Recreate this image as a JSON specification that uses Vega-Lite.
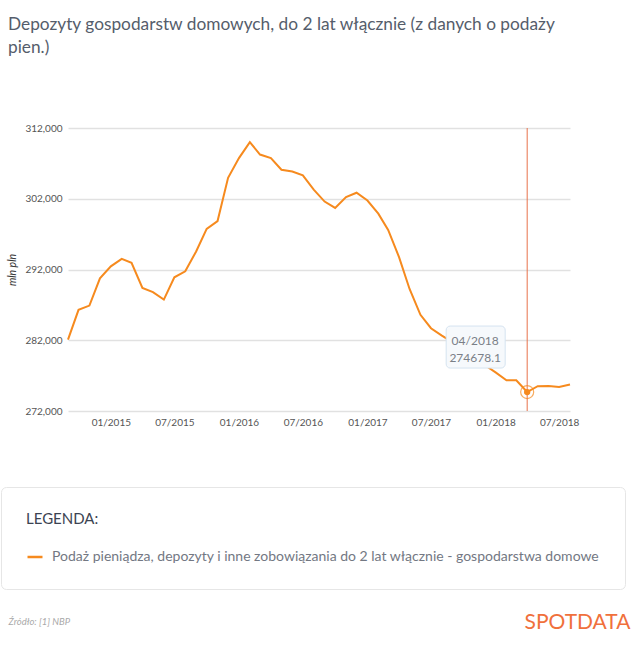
{
  "$schema": "https://vega.github.io/schema/vega-lite/v6.json",
  "width": 502,
  "height": 283,
  "autosize": {"type": "none"},
  "padding": {"left": 68, "top": 128, "right": 70, "bottom": 236},
  "background": "white",
  "title": {
    "text": ["Depozyty gospodarstw domowych, do 2 lat włącznie (z danych o podaży", "pien.)"],
    "anchor": "start",
    "frame": "group",
    "dx": -60,
    "offset": 53,
    "baseline": "alphabetic",
    "lineHeight": 23,
    "fontSize": 17.3,
    "fontWeight": "normal",
    "color": "#555d6b",
    "font": "Lato"
  },
  "data": {
    "values": [
      {"date": "2014-09-01", "value": 282100},
      {"date": "2014-10-01", "value": 286300},
      {"date": "2014-11-01", "value": 286900},
      {"date": "2014-12-01", "value": 290750},
      {"date": "2015-01-01", "value": 292450},
      {"date": "2015-02-01", "value": 293500},
      {"date": "2015-03-01", "value": 292950},
      {"date": "2015-04-01", "value": 289400},
      {"date": "2015-05-01", "value": 288800},
      {"date": "2015-06-01", "value": 287750},
      {"date": "2015-07-01", "value": 290900},
      {"date": "2015-08-01", "value": 291750},
      {"date": "2015-09-01", "value": 294550},
      {"date": "2015-10-01", "value": 297750},
      {"date": "2015-11-01", "value": 298850},
      {"date": "2015-12-01", "value": 304950},
      {"date": "2016-01-01", "value": 307750},
      {"date": "2016-02-01", "value": 310000},
      {"date": "2016-03-01", "value": 308250},
      {"date": "2016-04-01", "value": 307750},
      {"date": "2016-05-01", "value": 306100},
      {"date": "2016-06-01", "value": 305850},
      {"date": "2016-07-01", "value": 305300},
      {"date": "2016-08-01", "value": 303300},
      {"date": "2016-09-01", "value": 301600},
      {"date": "2016-10-01", "value": 300700},
      {"date": "2016-11-01", "value": 302250},
      {"date": "2016-12-01", "value": 302850},
      {"date": "2017-01-01", "value": 301750},
      {"date": "2017-02-01", "value": 299900},
      {"date": "2017-03-01", "value": 297600},
      {"date": "2017-04-01", "value": 293750},
      {"date": "2017-05-01", "value": 289250},
      {"date": "2017-06-01", "value": 285600},
      {"date": "2017-07-01", "value": 283700},
      {"date": "2017-08-01", "value": 282650},
      {"date": "2017-09-01", "value": 281700},
      {"date": "2017-10-01", "value": 280600},
      {"date": "2017-11-01", "value": 279600},
      {"date": "2017-12-01", "value": 278500},
      {"date": "2018-01-01", "value": 277450},
      {"date": "2018-02-01", "value": 276350},
      {"date": "2018-03-01", "value": 276350},
      {"date": "2018-04-01", "value": 274678.1},
      {"date": "2018-05-01", "value": 275500},
      {"date": "2018-06-01", "value": 275550},
      {"date": "2018-07-01", "value": 275400},
      {"date": "2018-08-01", "value": 275750}
    ]
  },
  "encoding": {
    "x": {
      "field": "date",
      "type": "temporal",
      "scale": {
        "type": "utc",
        "domain": [
          {"year": 2014, "month": 9, "date": 1, "utc": true},
          {"year": 2018, "month": 8, "date": 1, "utc": true}
        ],
        "nice": false
      },
      "axis": {
        "title": "Źródło: [1] NBP",
        "titleX": -60,
        "titleY": 210,
        "titleAlign": "left",
        "titleBaseline": "middle",
        "titleFontSize": 9.5,
        "titleFontStyle": "italic",
        "titleFontWeight": "normal",
        "titleColor": "#a9a9a9",
        "values": [
          {"year": 2015, "month": 1, "date": 1, "utc": true},
          {"year": 2015, "month": 7, "date": 1, "utc": true},
          {"year": 2016, "month": 1, "date": 1, "utc": true},
          {"year": 2016, "month": 7, "date": 1, "utc": true},
          {"year": 2017, "month": 1, "date": 1, "utc": true},
          {"year": 2017, "month": 7, "date": 1, "utc": true},
          {"year": 2018, "month": 1, "date": 1, "utc": true},
          {"year": 2018, "month": 7, "date": 1, "utc": true}
        ],
        "format": "%m/%Y",
        "grid": false,
        "domain": false,
        "ticks": false,
        "labelFontSize": 10,
        "labelColor": "#555555",
        "labelPadding": 6
      }
    }
  },
  "layer": [
    {
      "layer": [
        {
          "mark": {"type": "line", "strokeWidth": 2, "interpolate": "linear"},
          "encoding": {
            "y": {
              "field": "value",
              "type": "quantitative",
              "scale": {"domain": [272000, 312000], "nice": false, "zero": false},
              "axis": {
                "title": "mln pln",
                "titleFontStyle": "italic",
                "titleFontWeight": "normal",
                "titleFontSize": 10.5,
                "titleColor": "#333333",
                "titlePadding": 7,
                "values": [272000, 282000, 292000, 302000, 312000],
                "format": ",d",
                "domain": false,
                "ticks": false,
                "labelFontSize": 10,
                "labelColor": "#555555",
                "labelPadding": 6,
                "grid": true,
                "gridColor": "#e1e1e1",
                "gridWidth": 1.5
              }
            },
            "color": {
              "datum": "Podaż pieniądza, depozyty i inne zobowiązania do 2 lat włącznie - gospodarstwa domowe",
              "type": "nominal",
              "scale": {"range": ["#f68a1e"]},
              "legend": {
                "orient": "none",
                "legendX": -67,
                "legendY": 359,
                "title": "LEGENDA:",
                "titleFontSize": 15,
                "titleFontWeight": "normal",
                "titleColor": "#3c4352",
                "titlePadding": 21,
                "labelFontSize": 14,
                "labelColor": "#737883",
                "labelLimit": 1000,
                "labelOffset": 8,
                "symbolType": "stroke",
                "symbolStrokeWidth": 2.5,
                "symbolSize": 225,
                "padding": 25,
                "strokeColor": "#e6e6e6",
                "fillColor": "white",
                "cornerRadius": 5
              }
            }
          }
        },
        {
          "transform": [{"filter": {"field": "date", "equal": {"year": 2018, "month": 4, "date": 1, "utc": true}}}],
          "mark": {"type": "rule", "color": "#e8714a", "strokeWidth": 1},
          "encoding": {}
        },
        {
          "transform": [{"filter": {"field": "date", "equal": {"year": 2018, "month": 4, "date": 1, "utc": true}}}],
          "mark": {
            "type": "rect",
            "fill": "#f6f9fc",
            "stroke": "#d5e3f0",
            "strokeWidth": 1,
            "cornerRadius": 4,
            "xOffset": -81,
            "x2Offset": -22,
            "yOffset": -66,
            "y2Offset": -24
          },
          "encoding": {
            "x2": {"field": "date"},
            "y": {"field": "value", "type": "quantitative"},
            "y2": {"field": "value"}
          }
        },
        {
          "transform": [{"filter": {"field": "date", "equal": {"year": 2018, "month": 4, "date": 1, "utc": true}}}],
          "mark": {"type": "text", "dx": -52, "dy": -51, "fontSize": 12, "color": "#7a7f87", "baseline": "middle"},
          "encoding": {
            "y": {"field": "value", "type": "quantitative"},
            "text": {"field": "date", "timeUnit": "utcyearmonth", "type": "temporal", "format": "%m/%Y"}
          }
        },
        {
          "transform": [{"filter": {"field": "date", "equal": {"year": 2018, "month": 4, "date": 1, "utc": true}}}],
          "mark": {"type": "text", "dx": -52, "dy": -34, "fontSize": 12, "color": "#7a7f87", "baseline": "middle"},
          "encoding": {
            "y": {"field": "value", "type": "quantitative"},
            "text": {"field": "value", "type": "quantitative", "format": ".1f"}
          }
        },
        {
          "transform": [{"filter": {"field": "date", "equal": {"year": 2018, "month": 4, "date": 1, "utc": true}}}],
          "mark": {"type": "point", "filled": true, "size": 40, "color": "#f68a1e", "opacity": 1},
          "encoding": {
            "y": {"field": "value", "type": "quantitative"}
          }
        }
      ]
    },
    {
      "transform": [{"filter": {"field": "date", "equal": {"year": 2018, "month": 4, "date": 1, "utc": true}}}],
      "mark": {"type": "point", "filled": false, "size": 170, "stroke": "#f68a1e", "strokeWidth": 1.2, "opacity": 0.7},
      "encoding": {
        "y": {
          "field": "value",
          "type": "quantitative",
          "axis": {
            "orient": "right",
            "labels": false,
            "ticks": false,
            "domain": false,
            "grid": false,
            "title": "SPOTDATA",
            "titleAngle": 0,
            "titleX": 60,
            "titleY": 494,
            "titleAlign": "right",
            "titleBaseline": "middle",
            "titleFontSize": 21,
            "titleFontWeight": "normal",
            "titleColor": "#f0703c"
          }
        }
      }
    }
  ],
  "resolve": {"axis": {"y": "independent"}},
  "config": {
    "font": "Lato",
    "view": {"stroke": null}
  }
}
